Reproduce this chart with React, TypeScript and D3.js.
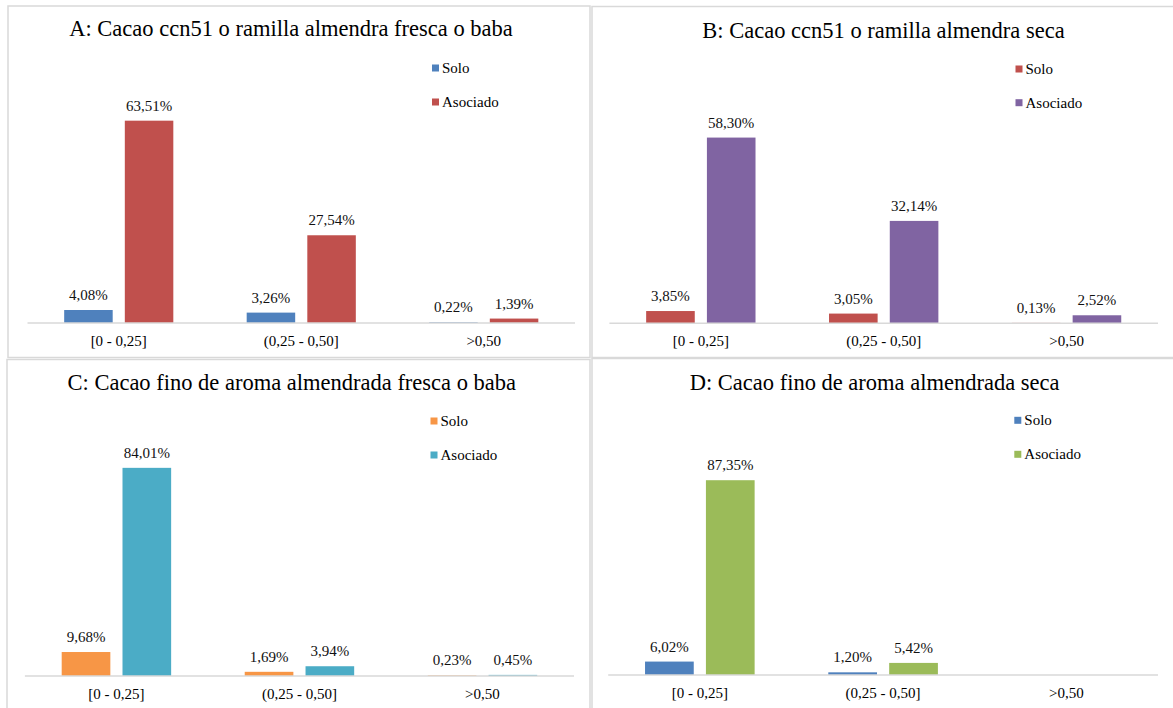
import React from "react";
import * as d3 from "d3";

const categories = ["[0 - 0,25]", "(0,25 - 0,50]", ">0,50"];
const seriesNames = ["Solo", "Asociado"];

const titleA = "A: Cacao ccn51 o ramilla almendra fresca o baba";
const titleB = "B: Cacao ccn51 o ramilla almendra seca";
const titleC = "C: Cacao fino de aroma almendrada fresca o baba";
const titleD = "D: Cacao fino de aroma almendrada seca";

const soloA = [4.08, 3.26, 0.22];
const asocA = [63.51, 27.54, 1.39];
const soloB = [3.85, 3.05, 0.13];
const asocB = [58.3, 32.14, 2.52];
const soloC = [9.68, 1.69, 0.23];
const asocC = [84.01, 3.94, 0.45];
const soloD: (number | null)[] = [6.02, 1.2, null];
const asocD: (number | null)[] = [87.35, 5.42, null];

const BLUE = "#4f81bd";
const RED = "#c0504d";
const PURPLE = "#8064a2";
const ORANGE = "#f79646";
const TEAL = "#4bacc6";
const GREEN = "#9bbb59";

const FONT = "Liberation Serif";

type Panel = {
  title: string;
  solo: (number | null)[];
  asoc: (number | null)[];
  colors: string[];
  yMax: number;
  box: { x: number; y: number; w: number; h: number };
  plot: { x0: number; x1: number; base: number };
  titleX: number;
  titleY: number;
  legendX: number;
  legendY: number[];
};

const panels: Panel[] = [
  {
    title: titleA, solo: soloA, asoc: asocA, colors: [BLUE, RED], yMax: 70,
    box: { x: 8, y: 6, w: 582, h: 351.5 },
    plot: { x0: 27.5, x1: 575, base: 323 },
    titleX: 291, titleY: 36, legendX: 432, legendY: [68, 102],
  },
  {
    title: titleB, solo: soloB, asoc: asocB, colors: [RED, PURPLE], yMax: 70,
    box: { x: 592, y: 6.5, w: 600, h: 351 },
    plot: { x0: 609.4, x1: 1158, base: 323.3 },
    titleX: 883.5, titleY: 38.3, legendX: 1015.5, legendY: [69, 102.7],
  },
  {
    title: titleC, solo: soloC, asoc: asocC, colors: [ORANGE, TEAL], yMax: 90,
    box: { x: 7, y: 359.5, w: 583, h: 360 },
    plot: { x0: 24.9, x1: 574, base: 676 },
    titleX: 291.8, titleY: 390, legendX: 430.5, legendY: [421, 455],
  },
  {
    title: titleD, solo: soloD, asoc: asocD, colors: [BLUE, GREEN], yMax: 100,
    box: { x: 592, y: 358.5, w: 600, h: 360 },
    plot: { x0: 608.2, x1: 1158, base: 675 },
    titleX: 874.6, titleY: 390, legendX: 1014.3, legendY: [420.3, 454.3],
  },
];

const PLOT_H = 223;

function fmt(v: number) {
  return v.toFixed(2).replace(".", ",") + "%";
}

const txt = (size: number) => ({ fontFamily: FONT, fontSize: `${size}px` });

function ChartPanel({ p }: { p: Panel }) {
  const x = d3.scaleBand<string>().domain(categories).range([p.plot.x0, p.plot.x1]).padding(0);
  const xs = d3
    .scaleBand<string>()
    .domain(seriesNames)
    .range([0, x.bandwidth()])
    .paddingInner(0.2)
    .paddingOuter(0.605);
  const y = d3.scaleLinear().domain([0, p.yMax]).range([p.plot.base, p.plot.base - PLOT_H]);
  const series = [p.solo, p.asoc];
  return (
    <g>
      <rect x={p.box.x} y={p.box.y} width={p.box.w} height={p.box.h} fill="#fff" stroke="#d9d9d9" strokeWidth={1.5} />
      <text x={p.titleX} y={p.titleY} textAnchor="middle" style={txt(22.5)} fill="#000">
        {p.title}
      </text>
      {seriesNames.map((s, si) => (
        <g key={s}>
          <rect x={p.legendX} y={p.legendY[si] - 3.5} width={7} height={7} fill={p.colors[si]} />
          <text x={p.legendX + 10} y={p.legendY[si] + 5} style={txt(15)} fill="#000">
            {s}
          </text>
        </g>
      ))}
      {series.map((vals, si) =>
        vals.map((v, ci) => {
          if (v === null) return null;
          const bx = (x(categories[ci]) as number) + (xs(seriesNames[si]) as number);
          const top = y(v);
          return (
            <g key={`${si}-${ci}`}>
              <rect x={bx} y={top} width={xs.bandwidth()} height={p.plot.base - top} fill={p.colors[si]} />
              <text x={bx + xs.bandwidth() / 2} y={top - 10} textAnchor="middle" style={txt(15)} fill="#111">
                {fmt(v)}
              </text>
            </g>
          );
        })
      )}
      <line x1={p.plot.x0} x2={p.plot.x1} y1={p.plot.base} y2={p.plot.base} stroke="#d9d9d9" strokeWidth={1.5} />
      {categories.map((c) => (
        <text
          key={c}
          x={(x(c) as number) + x.bandwidth() / 2}
          y={p.plot.base + 22.5}
          textAnchor="middle"
          style={txt(15)}
          fill="#000"
        >
          {c}
        </text>
      ))}
    </g>
  );
}

export default function App() {
  return (
    <svg width={1173} height={708} style={{ position: "absolute", left: 0, top: 0, background: "#fff" }}>
      <rect x={0} y={0} width={1173} height={708} fill="#fff" />
      {panels.map((p) => (
        <ChartPanel key={p.title} p={p} />
      ))}
    </svg>
  );
}
